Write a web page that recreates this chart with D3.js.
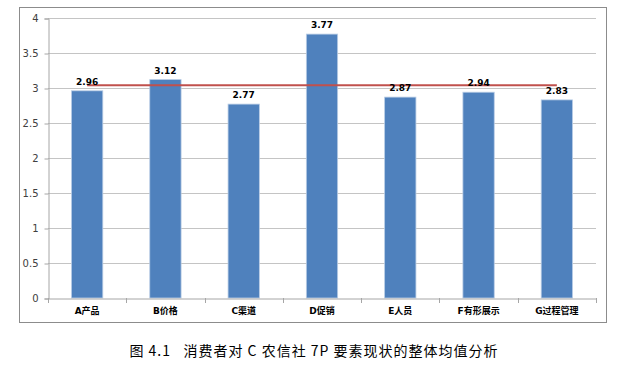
<!DOCTYPE html>
<html>
<head>
<meta charset="utf-8">
<script src="https://cdn.jsdelivr.net/npm/d3@7"></script>
<style>
  body { margin: 0; background: #fff; }
  svg { display: block; }
</style>
</head>
<body>
<svg id="chart" width="627" height="372"></svg>
<script>
// 7P factors and their mean scores
var categories = ["A产品", "B价格", "C渠道", "D促销", "E人员", "F有形展示", "G过程管理"];
var scores = [2.96, 3.12, 2.77, 3.77, 2.87, 2.94, 2.83];
var average = 3.04;
var yTicks = [0, 0.5, 1, 1.5, 2, 2.5, 3, 3.5, 4];

var svg = d3.select("#chart");
var plotLeft = 48, plotRight = 596, plotTop = 18, plotBottom = 298;

// chart frame
svg.append("rect")
    .attr("x", 19.5).attr("y", 7.5)
    .attr("width", 587).attr("height", 315)
    .attr("fill", "#fff")
    .attr("stroke", "#8c8c8c");

var x = d3.scaleBand().domain(categories).range([plotLeft, plotRight]).paddingInner(0.6).paddingOuter(0.3);
var xb = d3.scaleBand().domain(categories).range([plotLeft, plotRight]);
var y = d3.scaleLinear().domain([0, 4]).range([plotBottom, plotTop]);

// gridlines
svg.append("g").selectAll("line")
    .data(yTicks.filter(function(d) { return d > 0; }))
    .enter().append("line")
    .attr("x1", plotLeft).attr("x2", plotRight)
    .attr("y1", function(d) { return y(d) + 0.5; })
    .attr("y2", function(d) { return y(d) + 0.5; })
    .attr("stroke", "#c4c4c4");

// y axis
var yAxis = svg.append("g")
    .attr("transform", "translate(" + (plotLeft + 0.5) + ",0.5)")
    .call(d3.axisLeft(y).tickValues(yTicks).tickSize(4).tickPadding(6).tickFormat(d3.format("")));
yAxis.select(".domain").attr("stroke", "#a6a6a6");
yAxis.selectAll(".tick line").attr("stroke", "#a6a6a6");
yAxis.selectAll("text")
    .attr("fill", "#404040")
    .style("font-family", "'DejaVu Sans', Verdana, sans-serif")
    .style("font-size", "10px");

// bars
svg.append("g").selectAll("rect")
    .data(scores)
    .enter().append("rect")
    .attr("x", function(d, i) { return x(categories[i]); })
    .attr("y", function(d) { return y(d); })
    .attr("width", x.bandwidth())
    .attr("height", function(d) { return plotBottom - y(d); })
    .attr("fill", "#4f81bd")
    .attr("stroke", "#b9cde5")
    .attr("stroke-width", 0.8);

// x axis
var xAxis = svg.append("g")
    .attr("transform", "translate(0," + (plotBottom + 0.5) + ")")
    .call(d3.axisBottom(xb).tickSize(0).tickPadding(9));
xAxis.select(".domain").attr("stroke", "#a6a6a6");
xAxis.selectAll("text")
    .attr("fill", "#000")
    .style("font-family", "'DejaVu Sans', 'Noto Sans CJK SC', sans-serif")
    .style("font-size", "9px")
    .style("font-weight", "bold");
// category separators
svg.append("g").selectAll("line")
    .data(categories.concat(["end"]))
    .enter().append("line")
    .attr("x1", function(d, i) { return Math.round(plotLeft + i * xb.step()) + 0.5; })
    .attr("x2", function(d, i) { return Math.round(plotLeft + i * xb.step()) + 0.5; })
    .attr("y1", plotBottom).attr("y2", plotBottom + 5)
    .attr("stroke", "#a6a6a6");

// average line
svg.append("line")
    .attr("x1", x(categories[0]) + x.bandwidth() / 2)
    .attr("x2", x(categories[categories.length - 1]) + x.bandwidth() / 2)
    .attr("y1", y(average)).attr("y2", y(average))
    .attr("stroke", "#c0504d")
    .attr("stroke-width", 2);

// value labels
svg.append("g").selectAll("text")
    .data(scores)
    .enter().append("text")
    .attr("x", function(d, i) { return x(categories[i]) + x.bandwidth() / 2; })
    .attr("y", function(d) { return y(d) - 6; })
    .attr("text-anchor", "middle")
    .style("font-family", "'DejaVu Sans', Verdana, sans-serif")
    .style("font-size", "9px")
    .style("font-weight", "bold")
    .text(function(d) { return d3.format(".2f")(d); });

// caption
svg.append("text")
    .attr("x", 314).attr("y", 356)
    .attr("text-anchor", "middle")
    .style("font-family", "'Noto Sans CJK SC', sans-serif")
    .style("font-size", "14px")
    .style("letter-spacing", "1px")
    .style("white-space", "pre")
    .attr("fill", "#000")
    .text("图 4.1   消费者对 C 农信社 7P 要素现状的整体均值分析");
</script>
</body>
</html>
